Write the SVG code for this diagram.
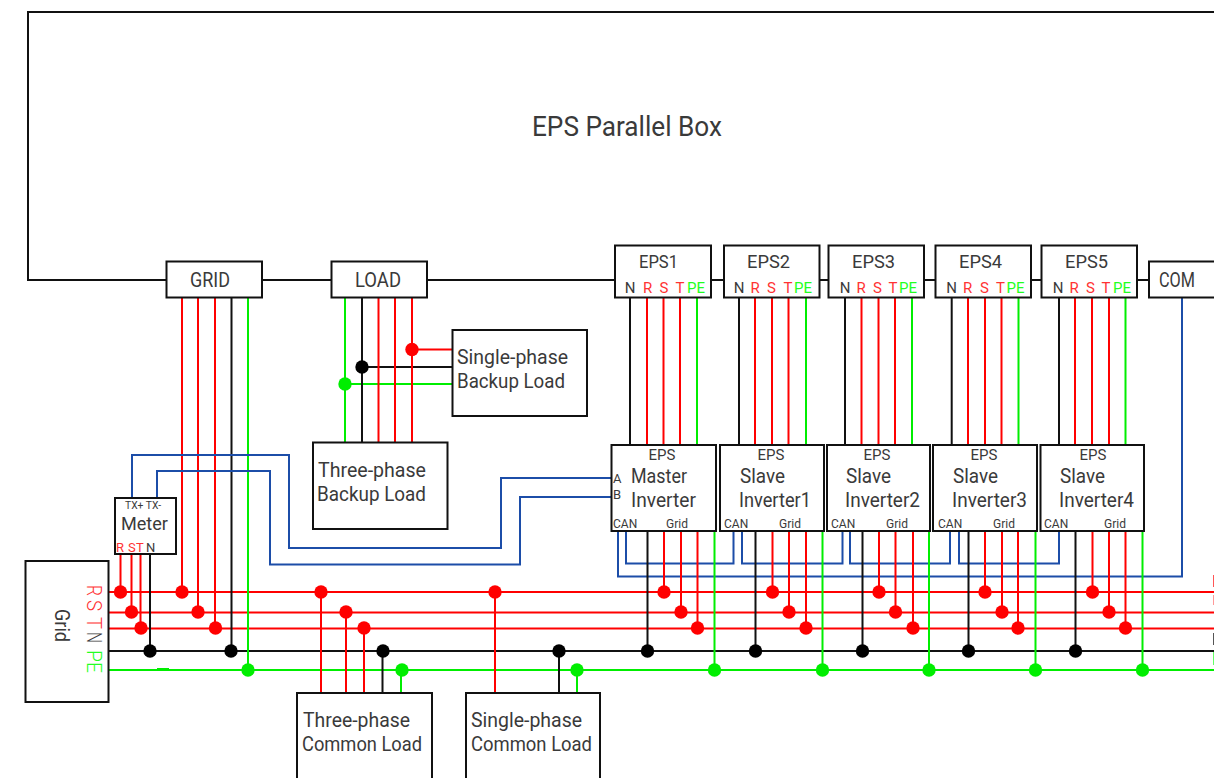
<svg xmlns="http://www.w3.org/2000/svg" width="1214" height="778" viewBox="0 0 1214 778">
<style>
text{font-family:Roboto,"Liberation Sans",sans-serif;fill:#3a3a3a;font-weight:400}
.b{fill:#fff;stroke:#111;stroke-width:2}
.t{font-size:20px}.m{font-size:13px}.s{font-size:12px}.x{font-size:15px}.e{font-size:19px}.v{font-size:21px}
.v text{font-weight:300}
.tr{fill:#f33}.tg{fill:#2f2}
#connectors path{fill:none;stroke-width:2}
.r{stroke:#f00}.g{stroke:#0e0}.k{stroke:#111}.u{stroke:#1c4da8}
.dr{fill:#f00}.dg{fill:#0e0}.dk{fill:#000}
</style>
<defs>
<circle id="d" r="6.7"/>
</defs>
<g id="connectors">
<path class="k" d="M166 280H28V12H1214M262 280H332M427 280H615M711 280H724M819 280H829M924 280H936M1031 280H1042M1137 280H1149"/>
<path class="r" d="M108 592H1214M108 612.500H1214M108 628.500H1214"/>
<path class="k" d="M108 651H1214"/>
<path class="g" d="M108 670H1214M157 669H169"/>
<path class="r" d="M120.500 554V592M131.500 554V612M140.500 554V628M182 297V592M198 297V612M215 297V628"/>
<path class="k" d="M150 554V651M231.500 297V651"/>
<path class="g" d="M248 297V670"/>
<path class="u" d="M132 498V455H289V548H501V478H612M157 498V471H270V564.500H520V497H612"/>
<path class="u" d="M618 531V576.500H1182V298M626 531V563.500H733.500V531M742 531V563.500H842.500V531M850 531V563.500H950V531M959 531V563.500H1059V531"/>
<path class="k" d="M630 297V445M739 297V445M845 297V445M951.700 297V445M1059 297V445"/>
<path class="r" d="M647 297V445M663.500 297V445M680 297V445M755 297V445M772 297V445M788.500 297V445M861.500 297V445M878.500 297V445M895 297V445M968 297V445M985 297V445M1001.500 297V445M1075 297V445M1092 297V445M1109 297V445"/>
<path class="g" d="M697 297V445M806 297V445M912 297V445M1018.500 297V445M1125.500 297V445"/>
<path class="k" d="M647.500 531V651M755.500 531V651M862.500 531V651M968.500 531V651M1075.500 531V651"/>
<path class="r" d="M664 531V592M681 531V612M697.500 531V628M772.500 531V592M789 531V612M806 531V628M879 531V592M895.500 531V612M913 531V628M985 531V592M1002 531V612M1018 531V628M1092.500 531V592M1109 531V612M1125.500 531V628"/>
<path class="g" d="M714.500 531V670M822.500 531V670M929 531V670M1035.500 531V670M1142.500 531V670"/>
<path class="g" d="M345 297V442M345 384H452"/>
<path class="k" d="M362 297V442M362 367H452"/>
<path class="r" d="M378.500 297V442M395 297V442M412 297V442M412 349.500H452"/>
<path class="r" d="M321 592V693M346 612V693M364 628V693M495 592V693"/>
<path class="k" d="M382.500 651V693M559 651V693"/>
<path class="g" d="M401 670V693M577 670V693"/>
<g class="dr">
<use href="#d" x="120.500" y="592"/><use href="#d" x="131.500" y="612"/><use href="#d" x="141" y="628"/>
<use href="#d" x="182" y="592"/><use href="#d" x="198" y="612"/><use href="#d" x="215.500" y="628"/>
<use href="#d" x="321" y="592"/><use href="#d" x="346" y="612"/><use href="#d" x="364" y="628"/><use href="#d" x="495" y="592"/>
<use href="#d" x="664" y="592"/><use href="#d" x="681" y="612"/><use href="#d" x="697.500" y="628"/>
<use href="#d" x="772.500" y="592"/><use href="#d" x="789" y="612"/><use href="#d" x="806" y="628"/>
<use href="#d" x="879" y="592"/><use href="#d" x="895.500" y="612"/><use href="#d" x="913" y="628"/>
<use href="#d" x="985" y="592"/><use href="#d" x="1002" y="612"/><use href="#d" x="1018" y="628"/>
<use href="#d" x="1092.500" y="592"/><use href="#d" x="1109" y="612"/><use href="#d" x="1125.500" y="628"/>
<use href="#d" x="412" y="349.500"/>
</g>
<g class="dk">
<use href="#d" x="150" y="651"/><use href="#d" x="231" y="651"/><use href="#d" x="383" y="651"/><use href="#d" x="559" y="651"/>
<use href="#d" x="647.500" y="651"/><use href="#d" x="755.500" y="651"/><use href="#d" x="862.500" y="651"/><use href="#d" x="968.500" y="651"/><use href="#d" x="1075.500" y="651"/>
<use href="#d" x="362" y="367"/>
</g>
<g class="dg">
<use href="#d" x="248" y="670"/><use href="#d" x="402" y="670"/><use href="#d" x="577" y="670"/>
<use href="#d" x="714.500" y="670"/><use href="#d" x="822.500" y="670"/><use href="#d" x="929" y="670"/><use href="#d" x="1035.500" y="670"/><use href="#d" x="1142.500" y="670"/>
<use href="#d" x="345" y="384"/>
</g>
</g>
<g id="eps-box"><text x="532" y="136" textLength="190" lengthAdjust="spacingAndGlyphs" style="font-size:27px">EPS Parallel Box</text></g>
<g id="grid-port"><rect class="b" x="166.500" y="261.500" width="95.500" height="36"/><text class="t" x="190" y="287" textLength="40" lengthAdjust="spacingAndGlyphs">GRID</text></g>
<g id="load-port"><rect class="b" x="331.500" y="261.500" width="95.500" height="36"/><text class="t" x="355" y="287" textLength="46" lengthAdjust="spacingAndGlyphs">LOAD</text></g>
<g id="eps1"><rect class="b" x="615" y="245.500" width="96" height="52"/><text class="e" x="639" y="268" textLength="39" lengthAdjust="spacingAndGlyphs">EPS1</text><text class="x" x="630" y="293" text-anchor="middle">N</text><text class="x tr" x="647.500" y="293" text-anchor="middle">R</text><text class="x tr" x="664" y="293" text-anchor="middle">S</text><text class="x tr" x="680" y="293" text-anchor="middle">T</text><text class="x tg" x="696" y="293" text-anchor="middle">PE</text></g>
<g id="eps2"><rect class="b" x="724" y="245.500" width="95.500" height="52"/><text class="e" x="747" y="268" textLength="43" lengthAdjust="spacingAndGlyphs">EPS2</text><text class="x" x="739" y="293" text-anchor="middle">N</text><text class="x tr" x="755" y="293" text-anchor="middle">R</text><text class="x tr" x="771.500" y="293" text-anchor="middle">S</text><text class="x tr" x="788" y="293" text-anchor="middle">T</text><text class="x tg" x="803" y="293" text-anchor="middle">PE</text></g>
<g id="eps3"><rect class="b" x="828.500" y="245.500" width="95.500" height="52"/><text class="e" x="852" y="268" textLength="43" lengthAdjust="spacingAndGlyphs">EPS3</text><text class="x" x="845" y="293" text-anchor="middle">N</text><text class="x tr" x="861" y="293" text-anchor="middle">R</text><text class="x tr" x="877.500" y="293" text-anchor="middle">S</text><text class="x tr" x="893" y="293" text-anchor="middle">T</text><text class="x tg" x="908" y="293" text-anchor="middle">PE</text></g>
<g id="eps4"><rect class="b" x="935.500" y="245.500" width="95.500" height="52"/><text class="e" x="959" y="268" textLength="43" lengthAdjust="spacingAndGlyphs">EPS4</text><text class="x" x="951.500" y="293" text-anchor="middle">N</text><text class="x tr" x="967.500" y="293" text-anchor="middle">R</text><text class="x tr" x="984.500" y="293" text-anchor="middle">S</text><text class="x tr" x="1000.500" y="293" text-anchor="middle">T</text><text class="x tg" x="1015.500" y="293" text-anchor="middle">PE</text></g>
<g id="eps5"><rect class="b" x="1041.500" y="245.500" width="95.500" height="52"/><text class="e" x="1065" y="268" textLength="43" lengthAdjust="spacingAndGlyphs">EPS5</text><text class="x" x="1058" y="293" text-anchor="middle">N</text><text class="x tr" x="1074" y="293" text-anchor="middle">R</text><text class="x tr" x="1090.500" y="293" text-anchor="middle">S</text><text class="x tr" x="1106" y="293" text-anchor="middle">T</text><text class="x tg" x="1122" y="293" text-anchor="middle">PE</text></g>
<g id="com"><rect class="b" x="1149" y="261.500" width="80" height="36"/><text class="t" x="1159" y="287" textLength="36" lengthAdjust="spacingAndGlyphs">COM</text></g>
<g id="single-backup"><rect class="b" x="452.500" y="330" width="134.500" height="86"/><text class="t" x="457" y="364" textLength="111" lengthAdjust="spacingAndGlyphs">Single-phase</text><text class="t" x="457" y="388" textLength="108" lengthAdjust="spacingAndGlyphs">Backup Load</text></g>
<g id="three-backup"><rect class="b" x="313" y="442.500" width="134.500" height="86.500"/><text class="t" x="318" y="477" textLength="108" lengthAdjust="spacingAndGlyphs">Three-phase</text><text class="t" x="317" y="501" textLength="109" lengthAdjust="spacingAndGlyphs">Backup Load</text></g>
<g id="master"><rect class="b" x="611.500" y="445" width="104.500" height="86"/><text class="x" x="662" y="460" text-anchor="middle">EPS</text><text class="t" x="631" y="483" textLength="56" lengthAdjust="spacingAndGlyphs">Master</text><text class="t" x="631" y="507" textLength="65" lengthAdjust="spacingAndGlyphs">Inverter</text><text class="m" x="613" y="483">A</text><text class="m" x="613" y="499">B</text><text class="s" x="613" y="528">CAN</text><text class="s" x="666" y="528">Grid</text></g>
<g id="slave1"><rect class="b" x="720" y="445" width="104" height="86"/><text class="x" x="771" y="460" text-anchor="middle">EPS</text><text class="t" x="740" y="483" textLength="45" lengthAdjust="spacingAndGlyphs">Slave</text><text class="t" x="739" y="507" textLength="72" lengthAdjust="spacingAndGlyphs">Inverter1</text><text class="s" x="724" y="528">CAN</text><text class="s" x="779" y="528">Grid</text></g>
<g id="slave2"><rect class="b" x="827" y="445" width="103" height="86"/><text class="x" x="877" y="460" text-anchor="middle">EPS</text><text class="t" x="846" y="483" textLength="45" lengthAdjust="spacingAndGlyphs">Slave</text><text class="t" x="845" y="507" textLength="75" lengthAdjust="spacingAndGlyphs">Inverter2</text><text class="s" x="831" y="528">CAN</text><text class="s" x="886" y="528">Grid</text></g>
<g id="slave3"><rect class="b" x="933" y="445" width="104" height="86"/><text class="x" x="984" y="460" text-anchor="middle">EPS</text><text class="t" x="953" y="483" textLength="45" lengthAdjust="spacingAndGlyphs">Slave</text><text class="t" x="952" y="507" textLength="75" lengthAdjust="spacingAndGlyphs">Inverter3</text><text class="s" x="938" y="528">CAN</text><text class="s" x="993" y="528">Grid</text></g>
<g id="slave4"><rect class="b" x="1040.500" y="445" width="103.500" height="86"/><text class="x" x="1093" y="460" text-anchor="middle">EPS</text><text class="t" x="1060" y="483" textLength="45" lengthAdjust="spacingAndGlyphs">Slave</text><text class="t" x="1059" y="507" textLength="75" lengthAdjust="spacingAndGlyphs">Inverter4</text><text class="s" x="1044" y="528">CAN</text><text class="s" x="1104" y="528">Grid</text></g>
<g id="meter"><rect class="b" x="115" y="498" width="61" height="56"/><text x="125" y="509" textLength="36" lengthAdjust="spacingAndGlyphs" style="font-size:11px">TX+ TX-</text><text class="t" x="121" y="530" textLength="47" lengthAdjust="spacingAndGlyphs" style="font-size:18px">Meter</text><text class="m tr" x="116" y="552">R</text><text class="m tr" x="128" y="552">S</text><text class="m tr" x="136" y="552">T</text><text class="m" x="146" y="552">N</text></g>
<g id="grid"><rect class="b" x="25.500" y="561" width="83" height="141"/><text class="t" transform="translate(55 609) rotate(90)" textLength="33" lengthAdjust="spacingAndGlyphs" style="font-size:20px">Grid</text>
<g class="v"><text class="tr" transform="translate(87 585) rotate(90)" textLength="11" lengthAdjust="spacingAndGlyphs">R</text><text class="tr" transform="translate(87 600) rotate(90)" textLength="11" lengthAdjust="spacingAndGlyphs">S</text><text class="tr" transform="translate(87 617) rotate(90)" textLength="12" lengthAdjust="spacingAndGlyphs">T</text><text transform="translate(87 632) rotate(90)" textLength="11" lengthAdjust="spacingAndGlyphs">N</text><text class="tg" transform="translate(87 650) rotate(90)" textLength="23" lengthAdjust="spacingAndGlyphs">PE</text></g></g>
<g id="right-edge-slivers"><rect x="1213" y="575" width="1" height="12" fill="#f55"/><rect x="1213" y="595" width="1" height="10" fill="#f99"/><rect x="1213" y="633" width="1" height="12" fill="#555"/><rect x="1213" y="652" width="1" height="13" fill="#6f6"/></g>
<g id="three-common"><rect class="b" x="297" y="693" width="135" height="100"/><text class="t" x="303" y="727" textLength="107" lengthAdjust="spacingAndGlyphs">Three-phase</text><text class="t" x="302" y="751" textLength="120" lengthAdjust="spacingAndGlyphs">Common Load</text></g>
<g id="single-common"><rect class="b" x="466" y="693" width="134" height="100"/><text class="t" x="471" y="727" textLength="111" lengthAdjust="spacingAndGlyphs">Single-phase</text><text class="t" x="471" y="751" textLength="121" lengthAdjust="spacingAndGlyphs">Common Load</text></g>
</svg>
